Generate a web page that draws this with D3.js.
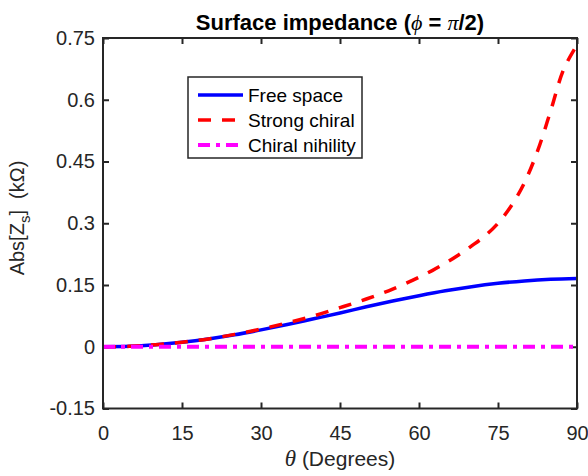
<!DOCTYPE html>
<html lang="en">
<head>
<meta charset="utf-8">
<title>Surface impedance</title>
<script src="https://cdn.jsdelivr.net/npm/d3@7"></script>
<style>
  body { margin: 0; background: #fff; }
  svg { font-family: "Liberation Sans", Arial, sans-serif; }
  .tick text { fill: #262626; font-size: 20px; }
</style>
</head>
<body>
<svg width="588" height="476"></svg>
<script>

// values
var xTicks = [0, 15, 30, 45, 60, 75, 90];
var yTicks = [-0.15, 0, 0.15, 0.3, 0.45, 0.6, 0.75];

var thetaFree = [0, 5, 10, 15, 20, 25, 30, 35, 40, 45, 50, 55, 60, 65, 70, 75, 80, 85, 90];
var freeSpace = [0, 0.001, 0.005, 0.011, 0.019, 0.029, 0.041, 0.054, 0.068, 0.082, 0.097, 0.111, 0.124, 0.136, 0.146, 0.154, 0.160, 0.164, 0.166];

var thetaChiral = [0, 5, 10, 15, 20, 25, 30, 35, 40, 45, 50, 55, 60, 62.5, 65, 67.5, 70, 72.5, 75, 77.5, 80, 82.5, 85, 87.5, 90];
var strongChiral = [0, 0.001, 0.005, 0.011, 0.019, 0.030, 0.043, 0.058, 0.075, 0.095, 0.116, 0.140, 0.169, 0.185, 0.203, 0.223, 0.245, 0.269, 0.300, 0.342, 0.398, 0.475, 0.573, 0.675, 0.733];

var thetaNih = [0, 90];
var nihility = [0, 0];

var svg = d3.select("svg"),
    margin = {top: 38, right: 11, bottom: 67.5, left: 103},
    width = +svg.attr("width") - margin.left - margin.right,
    height = +svg.attr("height") - margin.top - margin.bottom;

var x = d3.scaleLinear().domain([0, 90]).range([0, width]),
    y = d3.scaleLinear().domain([-0.15, 0.75]).range([height, 0]);

var g = svg.append("g")
    .attr("transform", "translate(" + margin.left + "," + margin.top + ")");

var axisColor = "#262626";

function styleAxis(sel) {
  sel.select(".domain").remove();
  sel.selectAll(".tick line").attr("stroke", axisColor).attr("stroke-width", 2);
}

// x axes (bottom with labels, top ticks only)
g.append("g")
    .attr("transform", "translate(0," + height + ")")
    .call(d3.axisBottom(x).tickValues(xTicks).tickSizeInner(-6).tickSizeOuter(0).tickPadding(17))
    .call(styleAxis);
g.append("g")
    .call(d3.axisTop(x).tickValues(xTicks).tickSizeInner(-6).tickSizeOuter(0).tickFormat(""))
    .call(styleAxis);

// y axes
g.append("g")
    .call(d3.axisLeft(y).tickValues(yTicks).tickSizeInner(-6).tickSizeOuter(0).tickPadding(8)
      .tickFormat(function(d) { return String(+d.toFixed(2)); }))
    .call(styleAxis);
g.append("g")
    .attr("transform", "translate(" + width + ",0)")
    .call(d3.axisRight(y).tickValues(yTicks).tickSizeInner(-6).tickSizeOuter(0).tickFormat(""))
    .call(styleAxis);

g.selectAll(".tick text").attr("font-family", null).attr("font-size", null);

// curves
var line = d3.line()
    .x(function(d) { return x(d[0]); })
    .y(function(d) { return y(d[1]); })
    .curve(d3.curveCatmullRom.alpha(0.5));

var series = [
  {name: "Free space", xs: thetaFree, ys: freeSpace, color: "#0000ff", dash: null, w: 3.5},
  {name: "Strong chiral", xs: thetaChiral, ys: strongChiral, color: "#ff0000", dash: "13,11", w: 3.5},
  {name: "Chiral nihility", xs: thetaNih, ys: nihility, color: "#ff00ff", dash: "12,6,4,6", w: 4}
];

series.forEach(function(s) {
  g.append("path")
      .datum(d3.zip(s.xs, s.ys))
      .attr("fill", "none")
      .attr("stroke", s.color)
      .attr("stroke-width", s.w)
      .attr("stroke-dasharray", s.dash)
      .attr("d", line);
});

// box
g.append("rect")
    .attr("width", width)
    .attr("height", height)
    .attr("fill", "none")
    .attr("stroke", axisColor)
    .attr("stroke-width", 2);

// legend
var leg = svg.append("g").attr("transform", "translate(188,77)");
leg.append("rect")
    .attr("width", 174)
    .attr("height", 81)
    .attr("fill", "#fff")
    .attr("stroke", axisColor)
    .attr("stroke-width", 1.5);
series.forEach(function(s, i) {
  var yy = 18 + i * 25;
  leg.append("line")
      .attr("x1", 10).attr("x2", 55)
      .attr("y1", yy).attr("y2", yy)
      .attr("stroke", s.color)
      .attr("stroke-width", s.w)
      .attr("stroke-dasharray", s.dash);
  leg.append("text")
      .attr("x", 60).attr("y", yy + 7)
      .attr("fill", "#000")
      .style("font-size", "19px")
      .text(s.name);
});

// title
var title = svg.append("text")
    .attr("x", margin.left + width / 2)
    .attr("y", 30)
    .attr("text-anchor", "middle")
    .style("font-size", "22px")
    .style("font-weight", "bold")
    .attr("fill", "#000");
title.append("tspan").text("Surface impedance (");
title.append("tspan").style("font-family", "'Liberation Serif', serif").style("font-style", "italic").style("font-weight", "normal").text("\u03D5");
title.append("tspan").text(" = ");
title.append("tspan").style("font-family", "'Liberation Serif', serif").style("font-style", "italic").style("font-weight", "normal").text("\u03C0");
title.append("tspan").text("/2)");

// x label
var xl = svg.append("text")
    .attr("x", margin.left + width / 2)
    .attr("y", 466)
    .attr("text-anchor", "middle")
    .style("font-size", "21px")
    .attr("fill", "#262626");
xl.append("tspan").style("font-family", "'Liberation Serif', serif").style("font-style", "italic").style("font-size", "23px").text("\u03B8");
xl.append("tspan").text("\u00A0(Degrees)");

// y label
var yl = svg.append("text")
    .attr("transform", "translate(24,218) rotate(-90)")
    .attr("text-anchor", "middle")
    .style("font-size", "20px")
    .attr("fill", "#262626");
yl.append("tspan").text("Abs[Z");
yl.append("tspan").attr("dy", 6).style("font-size", "15px").text("s");
yl.append("tspan").attr("dy", -6).text("]\u00A0\u00A0(k\u03A9)");

</script>
</body>
</html>
